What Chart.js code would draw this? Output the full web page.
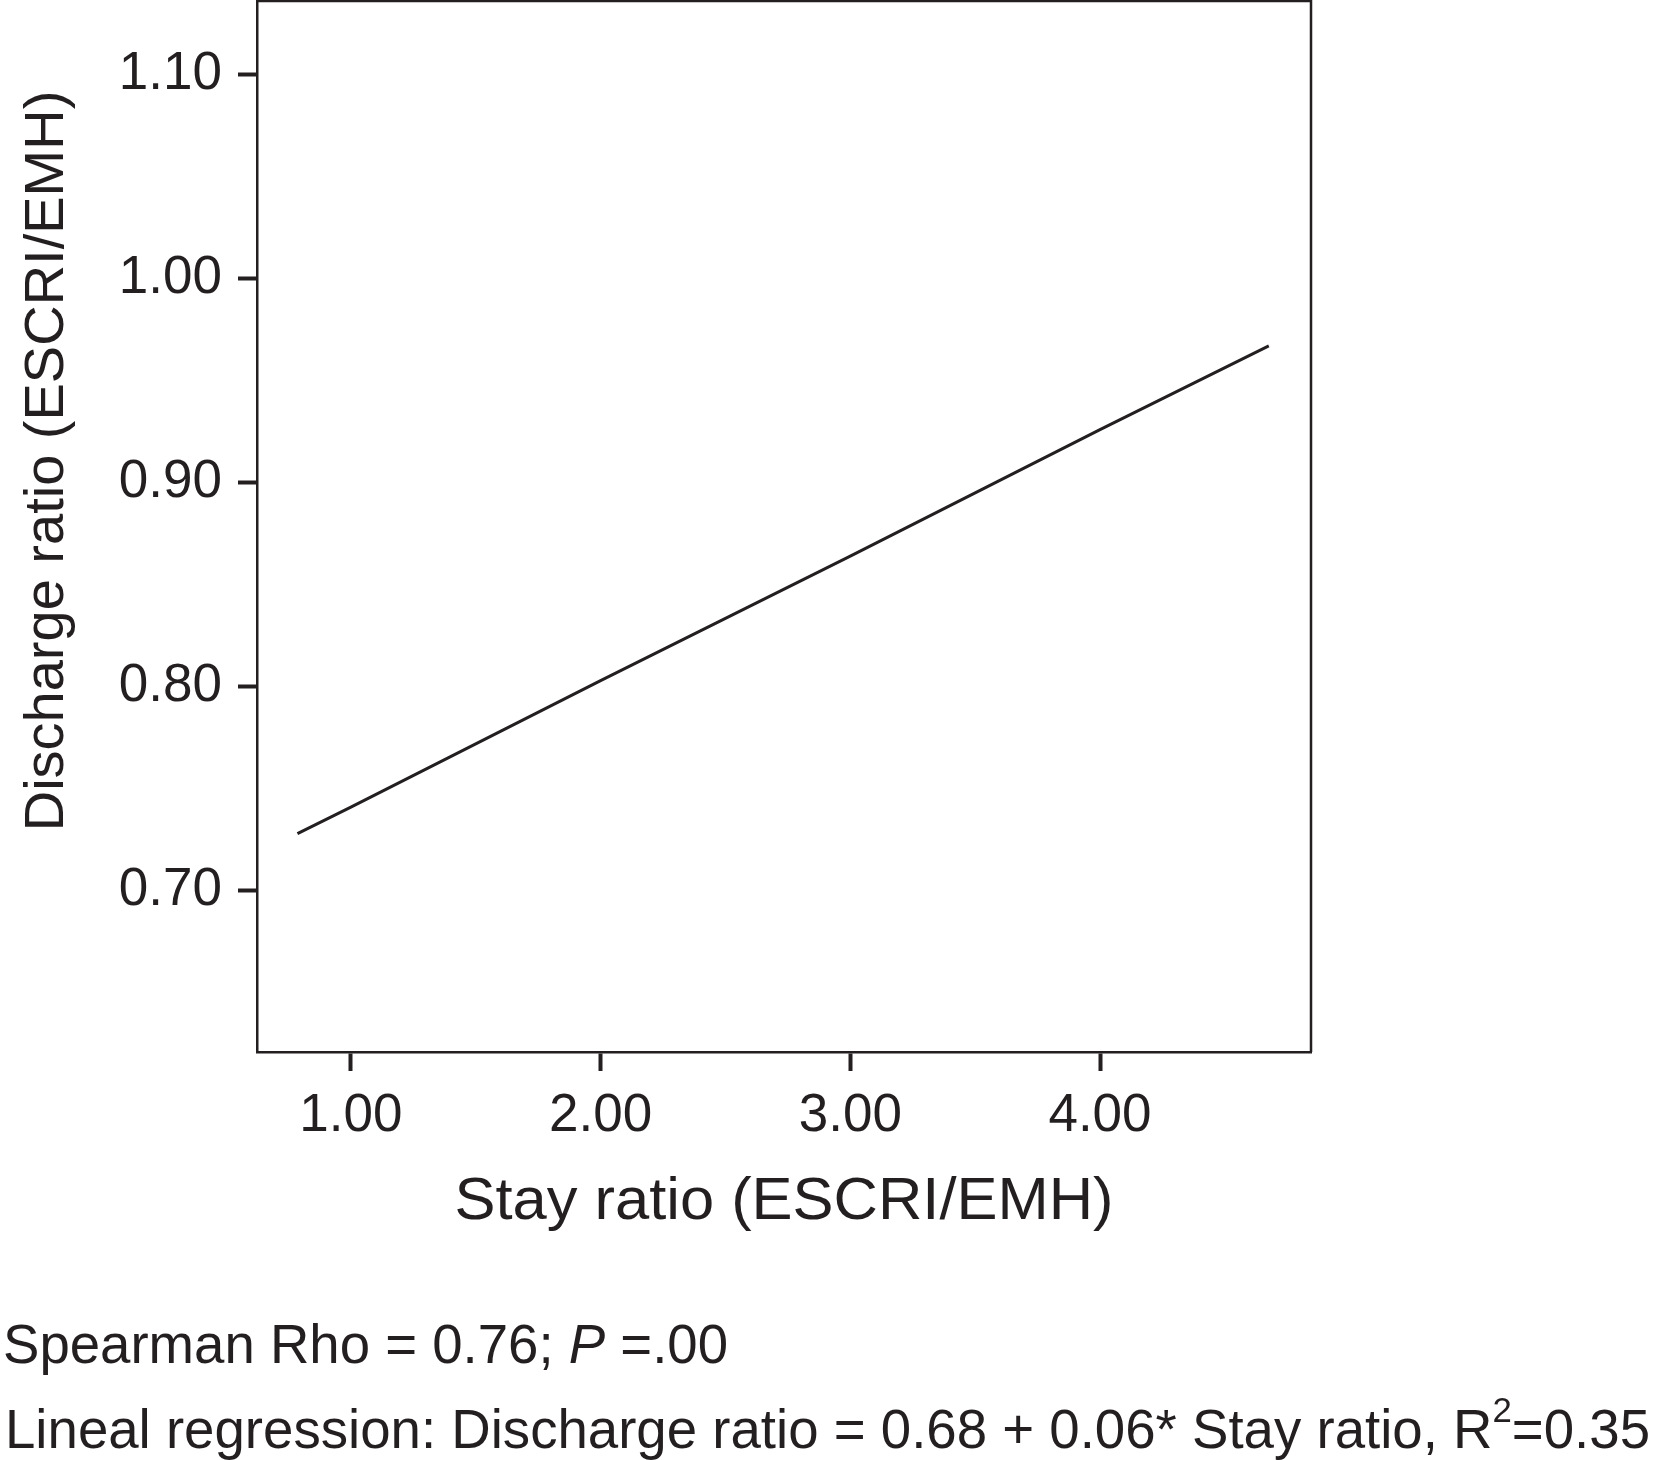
<!DOCTYPE html>
<html>
<head>
<meta charset="utf-8">
<script src="https://cdn.jsdelivr.net/npm/chart.js@4.4.1/dist/chart.umd.min.js"></script>
<style>
  body { margin: 0; background: #fff; }
  canvas { display: block; }
</style>
</head>
<body>
<canvas id="myChart" width="1654" height="1460"></canvas>
<script>
// data
const stayRatio = [0.786, 1.0, 2.0, 3.0, 4.0, 4.676];
const dischargeRatio = [0.728, 0.741, 0.803, 0.864, 0.926, 0.967];
const xTicks = [1.0, 2.0, 3.0, 4.0];
const yTicks = [0.7, 0.8, 0.9, 1.0, 1.1];

const xTitle = "Stay ratio (ESCRI/EMH)";
const yTitle = "Discharge ratio (ESCRI/EMH)";
const footer1 = ["Spearman Rho = 0.76; ", "P", " =.00"];
const footer2 = ["Lineal regression: Discharge ratio = 0.68 + 0.06* Stay ratio, R", "2", "=0.35"];

const ink = "#231f20";
const fam = "'Liberation Sans', Arial, Helvetica, sans-serif";

// frame, axis titles and the notes under the chart
const extras = {
  id: "extras",
  afterDraw(chart) {
    const ctx = chart.ctx;
    const a = chart.chartArea;
    ctx.save();
    ctx.strokeStyle = ink;
    ctx.lineWidth = 2.5;
    ctx.beginPath();
    ctx.moveTo(a.left, a.top);
    ctx.lineTo(a.right, a.top);
    ctx.lineTo(a.right, a.bottom);
    ctx.stroke();

    ctx.fillStyle = ink;
    ctx.textAlign = "center";
    ctx.textBaseline = "alphabetic";
    ctx.font = "59px " + fam;
    const tw = ctx.measureText(xTitle).width;
    ctx.save();
    ctx.translate((a.left + a.right) / 2, 1219);
    ctx.scale(659 / tw, 1);
    ctx.fillText(xTitle, 0, 0);
    ctx.restore();

    ctx.save();
    ctx.translate(63, 461);
    ctx.rotate(-Math.PI / 2);
    ctx.font = "56px " + fam;
    ctx.fillText(yTitle, 0, 0);
    ctx.restore();

    ctx.textAlign = "left";
    // line 1
    const f = "55px " + fam, fi = "italic 55px " + fam;
    ctx.font = f;
    let w1 = ctx.measureText(footer1[0]).width + ctx.measureText(footer1[2]).width;
    ctx.font = fi;
    w1 += ctx.measureText(footer1[1]).width;
    ctx.save();
    ctx.translate(3, 1363);
    ctx.scale((728 - 3) / w1, 1);
    let x = 0;
    ctx.font = f; ctx.fillText(footer1[0], x, 0); x += ctx.measureText(footer1[0]).width;
    ctx.font = fi; ctx.fillText(footer1[1], x, 0); x += ctx.measureText(footer1[1]).width;
    ctx.font = f; ctx.fillText(footer1[2], x, 0);
    ctx.restore();

    // line 2
    const fs = "35px " + fam;
    ctx.font = f;
    let w2 = ctx.measureText(footer2[0]).width + ctx.measureText(footer2[2]).width;
    ctx.font = fs;
    w2 += ctx.measureText(footer2[1]).width;
    ctx.save();
    ctx.translate(5, 1448);
    ctx.scale((1650 - 5) / w2, 1);
    x = 0;
    ctx.font = f; ctx.fillText(footer2[0], x, 0); x += ctx.measureText(footer2[0]).width;
    ctx.font = fs; ctx.fillText(footer2[1], x, -26); x += ctx.measureText(footer2[1]).width;
    ctx.font = f; ctx.fillText(footer2[2], x, 0);
    ctx.restore();
    ctx.restore();
  }
};

const axisStyle = {
  grid: {
    display: true,
    drawOnChartArea: false,
    drawTicks: true,
    tickLength: 19,
    tickWidth: 4,
    tickColor: ink
  },
  border: { display: true, width: 2.5, color: ink }
};

const config = {
  type: "line",
  data: {
    datasets: [
      {
        data: stayRatio.map((v, i) => ({ x: v, y: dischargeRatio[i] })),
        borderColor: ink,
        borderWidth: 3,
        pointRadius: 0,
        fill: false,
        tension: 0
      }
    ]
  },
  options: {
    responsive: false,
    animation: false,
    layout: { padding: { top: 1, right: 343, bottom: 0, left: 0 } },
    plugins: { legend: { display: false }, tooltip: { enabled: false } },
    scales: {
      x: {
        type: "linear",
        min: 0.624,
        max: 4.845,
        ...axisStyle,
        afterBuildTicks: (s) => { s.ticks = xTicks.map((v) => ({ value: v })); },
        afterFit: (s) => { s.height = 408; s.paddingLeft = 0; s.paddingRight = 0; },
        ticks: {
          color: ink,
          padding: 14,
          maxRotation: 0,
          font: { size: 53, family: fam },
          callback: (v) => Number(v).toFixed(2)
        }
      },
      y: {
        type: "linear",
        min: 0.621,
        max: 1.136,
        ...axisStyle,
        afterBuildTicks: (s) => { s.ticks = yTicks.map((v) => ({ value: v })); },
        afterFit: (s) => { s.width = 257; s.paddingTop = 0; s.paddingBottom = 0; },
        ticks: {
          color: ink,
          padding: 16,
          font: { size: 53, family: fam },
          callback: (v) => Number(v).toFixed(2)
        }
      }
    }
  },
  plugins: [extras]
};

var myChart = new Chart(document.getElementById("myChart"), config);
</script>
</body>
</html>
